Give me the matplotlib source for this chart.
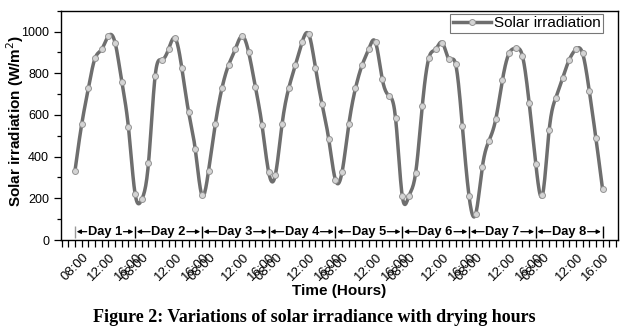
import numpy as np
from matplotlib import pyplot as plt

plt.rcParams['font.family'] = ['Liberation Sans', 'DejaVu Sans']

# hourly readings, 10 per drying day
day1 = [333, 555, 728, 872, 915, 979, 947, 760, 541, 221]
day2 = [195, 368, 787, 864, 915, 968, 824, 616, 437, 216]
day3 = [333, 555, 728, 840, 915, 979, 901, 736, 552, 325]
day4 = [312, 555, 728, 840, 949, 987, 827, 651, 483, 288]
day5 = [328, 555, 728, 840, 917, 949, 773, 693, 584, 211]
day6 = [211, 320, 643, 875, 915, 947, 867, 843, 547, 211]
day7 = [125, 352, 477, 579, 768, 896, 920, 883, 659, 365]
day8 = [216, 528, 683, 776, 864, 915, 896, 717, 488, 243]
days = [day1, day2, day3, day4, day5, day6, day7, day8]
day_names = ['Day 1', 'Day 2', 'Day 3', 'Day 4', 'Day 5', 'Day 6', 'Day 7', 'Day 8']
hour_labels = ['08:00', '12:00', '16:00']

y = np.array(sum(days, []), dtype=float)
x = np.arange(len(y), dtype=float)


def smooth(x, y, per=12):
    # natural cubic spline through the readings
    n = len(x)
    h = np.diff(x)
    A = np.zeros((n, n))
    r = np.zeros(n)
    A[0, 0] = A[-1, -1] = 1
    for i in range(1, n - 1):
        A[i, i - 1] = h[i - 1]
        A[i, i] = 2 * (h[i - 1] + h[i])
        A[i, i + 1] = h[i]
        r[i] = 6 * ((y[i + 1] - y[i]) / h[i] - (y[i] - y[i - 1]) / h[i - 1])
    M = np.linalg.solve(A, r)
    xs, ys = [], []
    for i in range(n - 1):
        t = np.linspace(x[i], x[i + 1], per, endpoint=False)
        a = x[i + 1] - t
        b = t - x[i]
        s = (M[i] * a**3 + M[i + 1] * b**3) / (6 * h[i]) \
            + (y[i] / h[i] - M[i] * h[i] / 6) * a \
            + (y[i + 1] / h[i] - M[i + 1] * h[i] / 6) * b
        xs.append(t)
        ys.append(s)
    xs.append([x[-1]])
    ys.append([y[-1]])
    return np.concatenate(xs), np.concatenate(ys)


fig = plt.figure(figsize=(6.28, 3.36), dpi=100)
ax = fig.add_axes([0.0971, 0.2857, 0.8869, 0.6823])

xs, ys = smooth(x, y)
ax.plot(xs, ys, color='#6e6e6e', lw=2.5, zorder=2)
ax.plot(x, y, ls='none', marker='o', ms=4.3, mfc='#d4d4d4', mec='#949494',
        mew=0.7, zorder=3)

# legend handle: line with marker
ax.plot([], [], color='#6e6e6e', lw=2.5, marker='o', ms=4.3, mfc='#d4d4d4',
        mec='#949494', mew=0.7, label='Solar irradiation')
leg = ax.legend(loc='upper right', bbox_to_anchor=(0.973, 0.986), fontsize=11,
                frameon=True, fancybox=False, handlelength=2.5, borderpad=0.15,
                handletextpad=0.2, borderaxespad=0)
leg.get_frame().set_edgecolor('#555555')
leg.get_frame().set_linewidth(0.8)

# day brackets along the bottom
bounds = [0] + [10 * k + 9 for k in range(8)]
ybar = 40
for k, name in enumerate(day_names):
    L, R = bounds[k], bounds[k + 1]
    c = (L + R) / 2
    ax.text(c, ybar, name, ha='center', va='center', fontsize=9.3,
            fontweight='bold')
    for start, end in [(c - 2.75, L + 0.25), (c + 2.75, R - 0.25)]:
        ax.annotate('', xy=(end, ybar), xytext=(start, ybar),
                    arrowprops=dict(arrowstyle='-|>', color='black', lw=0.9,
                                    mutation_scale=6, shrinkA=0, shrinkB=0))
for i, b in enumerate(bounds):
    ax.vlines(b, 10, 65, color='#9a9a9a' if i == 0 else 'black', lw=1)

ax.set_xlim(-2.1, 81.3)
ax.set_ylim(0, 1100)
ax.set_xticks(np.arange(-2, 82), minor=True)
ticks = []
for k in range(8):
    ticks += [bounds[k], 10 * k + 4, 10 * k + 8]
ax.set_xticks(ticks)
ax.set_xticklabels(hour_labels * 8, rotation=45, ha='center', va='center',
                   rotation_mode='anchor', fontsize=9.5)
ax.set_yticks(np.arange(0, 1001, 200))
ax.set_yticks(np.arange(0, 1101, 100), minor=True)
ax.tick_params(axis='y', labelsize=9, length=5, width=0.9, direction='out')
ax.tick_params(axis='y', which='minor', length=3, width=0.9)
ax.tick_params(axis='x', which='both', length=5, width=0.9, direction='out')
ax.tick_params(axis='x', which='major', pad=14.5)
for s in ax.spines.values():
    s.set_linewidth(1)

ax.set_ylabel('Solar irradiation (W/m$^2$)', fontsize=11, fontweight='bold')
ax.yaxis.set_label_coords(-0.063, 0.52)
ax.set_xlabel('Time (Hours)', fontsize=11, fontweight='bold', va='top')
ax.xaxis.set_label_coords(0.5, -0.19)
fig.text(0.5, 0.054, 'Figure 2: Variations of solar irradiance with drying hours',
         ha='center', va='center', fontsize=13, fontweight='bold',
         family='Liberation Serif')

fig.savefig('out.png', dpi=100)
